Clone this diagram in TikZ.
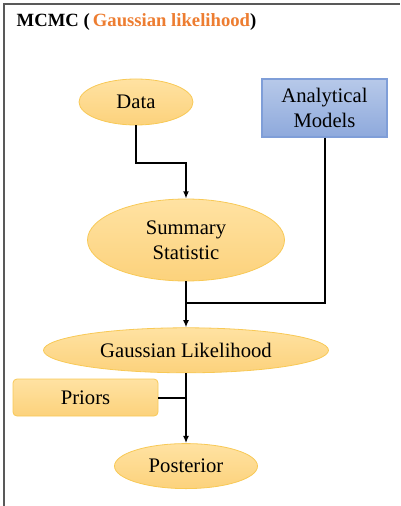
\documentclass[tikz,border=0pt]{standalone}
\usepackage{fontspec}
\setmainfont{Liberation Serif}
\usetikzlibrary{positioning}
\usetikzlibrary{shapes.geometric}
\usetikzlibrary{arrows.meta}

\definecolor{ovaltop}{HTML}{FFE2A2}
\definecolor{ovalbot}{HTML}{FCD27C}
\definecolor{ovalline}{HTML}{F8C956}
\definecolor{modtop}{HTML}{B7C9E9}
\definecolor{modbot}{HTML}{8EA9DC}
\definecolor{modline}{HTML}{7F9ED8}
\definecolor{titleorange}{HTML}{ED7D31}
\definecolor{framegray}{HTML}{595959}

\begin{document}
\begin{tikzpicture}[
    x=0.75pt,y=-0.75pt,
    every node/.style={font=\fontsize{15.5}{18.75}\selectfont},
    oval/.style={ellipse,inner sep=0pt,align=center,top color=ovaltop,bottom color=ovalbot,draw=ovalline,line width=0.6pt},
    model/.style={rectangle,inner sep=0pt,align=center,top color=modtop,bottom color=modbot,draw=modline,line width=0.8pt},
    prior/.style={rectangle,rounded corners=3pt,inner sep=0pt,top color=ovaltop,bottom color=ovalbot,draw=ovalline,line width=0.6pt},
    frame/.style={draw=framegray,line width=1.2pt},
    line/.style={line width=1.5pt,black},
    arr/.style={line,-{Latex[length=5.5pt,width=4.5pt]}}
    ]
    \useasboundingbox (0,0) rectangle (400,506);
    \draw[frame] (4,506) -- (4,4) -- (400,4);
    \node (title) [anchor=west,font=\fontsize{14}{16}\selectfont\bfseries] at (12,22) {MCMC (\,\textcolor{titleorange}{Gaussian likelihood})};
    \node (data) [oval,minimum width=85.5pt,minimum height=34.5pt] at (136,102) {Data};
    \node (models) [model,minimum width=93.75pt,minimum height=43.5pt] at (324.5,108) {Analytical\\Models};
    \node (summ) [oval,minimum width=147.75pt,minimum height=61.5pt] at (186,240) {Summary\\Statistic};
    \node (gauss) [oval,minimum width=213.75pt,minimum height=33.75pt,below=34.5pt of summ] {Gaussian Likelihood};
    \node (priors) [prior,minimum width=108.75pt,minimum height=27.75pt] at (85.5,397.5) {Priors};
    \node (post) [oval,minimum width=107.25pt,minimum height=33.75pt,below=52.5pt of gauss] {Posterior};
    \coordinate (dbend) at (136,163);
    \coordinate (mbend) at (324.5,303);
    \draw[arr] (data) -- (dbend) -| (summ);
    \draw[line] (models) -- (mbend) -- (mbend -| summ);
    \draw[arr] (summ) -- (gauss);
    \draw[line] (priors) -- (priors -| gauss);
    \draw[arr] (gauss) -- (post);
  \end{tikzpicture}
\end{document}
